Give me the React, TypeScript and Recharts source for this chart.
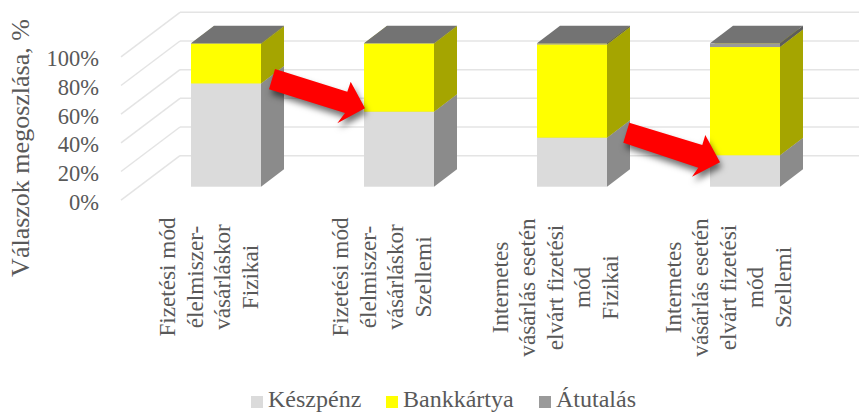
import { Bar, BarChart, CartesianGrid, Legend, XAxis, YAxis } from "recharts";

// Three-stacked "3D" columns: payment method split by work type.
const categories = [
  "Fizetési mód\nélelmiszer-\nvásárláskor\nFizikai",
  "Fizetési mód\nélelmiszer-\nvásárláskor\nSzellemi",
  "Internetes\nvásárlás esetén\nelvárt fizetési\nmód\nFizikai",
  "Internetes\nvásárlás esetén\nelvárt fizetési\nmód\nSzellemi",
];
const keszpenz = [72, 52.3, 34.2, 21.9];
const bankkartya = [27.7, 47.5, 65, 75.5];
const atutalas = [0.3, 0.2, 0.8, 2.6];
const percentTicks = [0, 20, 40, 60, 80, 100];

const data = categories.map((name, i) => ({
  name,
  keszpenz: keszpenz[i],
  bankkartya: bankkartya[i],
  atutalas: atutalas[i],
}));

const FONT = '"Liberation Serif", "Times New Roman", serif';
const INK = "#595959";
const GRID = "#e4e4e4";

// depth of a column box
const DX = 23;
const DY = 17.5;

const series = [
  { key: "keszpenz", label: "Készpénz", front: "#dbdbdb", side: "#8b8b8b", top: "#ababab" },
  { key: "bankkartya", label: "Bankkártya", front: "#ffff00", side: "#a5a500", top: "#cccc00" },
  { key: "atutalas", label: "Átutalás", front: "#9a9a9a", side: "#5c5c5c", top: "#737373" },
];

const boxShape = (side: string, top: string) => (props: any) => {
  const { x, y, width, height, fill } = props;
  const r = x + width;
  const b = y + height;
  return (
    <g>
      <polygon points={`${x},${y} ${r},${y} ${r + DX},${y - DY} ${x + DX},${y - DY}`} fill={top} />
      <polygon points={`${r},${y} ${r + DX},${y - DY} ${r + DX},${b - DY} ${r},${b}`} fill={side} />
      <rect x={x} y={y} width={width} height={height} fill={fill} />
    </g>
  );
};

// back wall line plus the diagonal running along the side wall
const wallLine = (props: any) => {
  const y = props.y1;
  return (
    <g key={props.index} stroke={GRID} strokeWidth={1.5} fill="none">
      <line x1={180} y1={y - 31} x2={859} y2={y - 31} />
      <line x1={121} y1={y + 13.5} x2={180} y2={y - 31} />
    </g>
  );
};

const PercentTick = (props: any) => (
  <text x={99} y={props.y + 23} textAnchor="end" fontFamily={FONT} fontSize={22.5} fill={INK}>
    {props.payload.value}%
  </text>
);

const CategoryTick = (props: any) => {
  const lines: string[] = props.payload.value.split("\n");
  const fiveLines = lines.length === 5;
  const first = fiveLines ? -64 : -50.5;
  const centre = fiveLines ? 287.5 : 277;
  return (
    <g transform={`translate(${props.x},${centre}) rotate(-90)`}>
      {lines.map((line, i) => (
        <text key={i} x={0} y={first + i * 27.6} textAnchor="middle" fontFamily={FONT} fontSize={23.2} fill={INK}>
          {line}
        </text>
      ))}
    </g>
  );
};

const legendStops = [251, 386, 539];

const LegendRow = () => (
  <div style={{ position: "relative", height: 20, top: 1, fontFamily: FONT, fontSize: 24, color: INK }}>
    {series.map((s, i) => (
      <div key={s.key} style={{ position: "absolute", left: legendStops[i], top: 0, whiteSpace: "nowrap", lineHeight: "20px" }}>
        <span style={{ display: "inline-block", width: 12, height: 12, background: s.front, marginRight: 5, position: "relative", top: 1 }} />
        {s.label}
      </div>
    ))}
  </div>
);

const arrows = [
  "275,69 347.3,91.7 350.7,81.7 365,108.3 337.3,123.3 345,113 269,89.3",
  "629.3,122.7 702.3,145 705.3,135 720,162.3 692,176.7 698.3,167.7 623.3,142.7",
];

export default function App() {
  return (
    <div style={{ position: "absolute", left: 0, top: 0, width: 859, height: 412, overflow: "hidden" }}>
      <BarChart
        width={859}
        height={412}
        data={data}
        barSize={70}
        margin={{ top: 43.3, right: 28, bottom: 191.3, left: 79 }}
      >
        <CartesianGrid vertical={false} horizontal={wallLine} />
        <XAxis dataKey="name" height={10} axisLine={false} tickLine={false} tick={CategoryTick} interval={0} />
        <YAxis
          width={60}
          domain={[0, 100]}
          ticks={percentTicks}
          axisLine={false}
          tickLine={false}
          tick={PercentTick}
          interval={0}
        />
        {series.map((s) => (
          <Bar
            key={s.key}
            dataKey={s.key}
            stackId="a"
            fill={s.front}
            isAnimationActive={false}
            shape={boxShape(s.side, s.top)}
          />
        ))}
        <Legend
          verticalAlign="bottom"
          height={24}
          content={LegendRow}
          wrapperStyle={{ left: 0, bottom: 0, width: 859 }}
        />
      </BarChart>
      <svg width={859} height={412} style={{ position: "absolute", left: 0, top: 0, pointerEvents: "none" }}>
        {arrows.map((points) => (
          <polygon
            key={points}
            points={points}
            fill="#ff0000"
            style={{ filter: "drop-shadow(2px 5px 3px rgba(0,0,0,0.55))" }}
          />
        ))}
      </svg>
      <div
        style={{
          position: "absolute",
          left: 21,
          top: 148,
          transform: "translate(-50%,-50%) rotate(-90deg)",
          fontFamily: FONT,
          fontSize: 26,
          color: INK,
          whiteSpace: "nowrap",
        }}
      >
        Válaszok megoszlása, %
      </div>
    </div>
  );
}
